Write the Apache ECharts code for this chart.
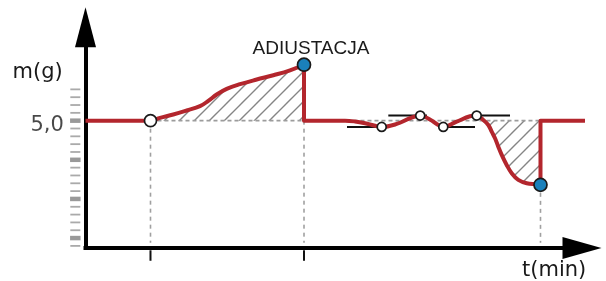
<!DOCTYPE html>
<html><head><meta charset="utf-8">
<script src="https://cdn.jsdelivr.net/npm/echarts@6/dist/echarts.min.js"></script>
<style>html,body{margin:0;padding:0;background:#fff}#c{width:606px;height:281px}</style>
</head><body><div id="c"></div>
<script>
// ---- data (t in arbitrary time units 0..100, m in grams) ----
const baseLevel = 5.0;
const yAxisName = 'm(g)';
const xAxisName = 't(min)';
const markerLabel = 'ADIUSTACJA';

// rising drift from the start marker up to the adjustment point
const riseT = [13.09, 15.0, 17.68, 20.38, 23.06, 24.73, 26.42, 28.44, 31.12, 34.48, 37.83, 41.19, 44.01];
const riseV = [5.0, 5.036, 5.079, 5.130, 5.185, 5.253, 5.334, 5.406, 5.466, 5.526, 5.581, 5.644, 5.715];

// oscillation after adjustment
const midT = [44.01, 52.27, 54.28, 56.29, 58.11, 59.66, 62.68, 65.36, 67.42, 69.44, 70.73, 72.06, 74.76, 77.44, 78.79];
const midV = [5.0, 5.0, 4.99, 4.968, 4.939, 4.92, 4.958, 5.031, 5.065, 5.013, 4.958, 4.92, 4.987, 5.056, 5.065];

// falling drift to the second adjustment point
const dipT = [80.12, 81.13, 81.81, 82.48, 83.14, 83.83, 84.83, 85.84, 87.17, 88.86, 90.88, 91.64];
const dipV = [5.009, 4.945, 4.860, 4.775, 4.668, 4.562, 4.434, 4.329, 4.243, 4.201, 4.188, 4.18];

const startT = 0, endT = 100.6;

// markers
const startMarkT = [13.09], startMarkV = [5.0];
const checkT = [59.66, 67.42, 72.06, 78.79];
const checkV = [4.92, 5.065, 4.92, 5.065];
const adjustT = [44.01, 91.64];
const adjustV = [5.715, 4.18];

// short horizontal check bars
const barFromT = [52.67, 60.99, 72.0, 78.79];
const barToT   = [60.66, 68.78, 78.45, 85.5];
const barV     = [4.92, 5.065, 4.92, 5.065];

// dotted drop lines to the time axis
const dropT = [13.09, 44.01, 91.64];
const dropTopV = [5.0, 5.0, 4.18];
const dropBottomV = 3.44;

// time-axis tick marks
const xTickT = [13.09, 44.01];

// mass-axis scale ticks
const yTickThin = [5.4, 5.3, 5.2, 5.1, 4.9, 4.8, 4.7, 4.6, 4.4, 4.3, 4.2, 4.1, 3.9, 3.8, 3.7, 3.6, 3.4];
const yTickThick = [5.0, 4.5, 4.0, 3.5];
const yLabelValues = [5.0];
const yLabelTexts = ['5,0'];

// ---- chart ----
const yMin = 3.3731, yMax = 6.1931;
const tickColT = -2.05;
const xTickV = 3.277;
const textColor = '#1a1a1a';

function zip(a, b) { return a.map((v, i) => [v, b[i]]); }

function hatchPattern() {
  const s = 15;
  const c = document.createElement('canvas');
  c.width = s; c.height = s;
  const g = c.getContext('2d');
  g.strokeStyle = '#858585';
  g.lineWidth = 1.4;
  g.beginPath();
  for (let k = -1; k <= 1; k++) {
    g.moveTo(k * s - 2, s + 2);
    g.lineTo(k * s + s + 2, -2);
  }
  g.stroke();
  return { image: c, repeat: 'repeat' };
}
const pattern = hatchPattern();

const redData = [[startT, baseLevel]]
  .concat(zip(riseT, riseV))
  .concat(zip(midT, midV))
  .concat(zip(dipT, dipV))
  .concat([[adjustT[1], baseLevel], [endT, baseLevel]]);

const series = [];

series.push({
  type: 'line', z: 1, silent: true, clip: false, smooth: 0.4, symbol: 'none',
  data: zip(riseT, riseV).concat([[riseT[riseT.length - 1], baseLevel]]),
  lineStyle: { width: 0, opacity: 0 },
  areaStyle: { color: pattern, origin: baseLevel, opacity: 1 }
});
series.push({
  type: 'line', z: 1, silent: true, clip: false, smooth: 0.4, symbol: 'none',
  data: [[dipT[0], baseLevel]].concat(zip(dipT.slice(1), dipV.slice(1))).concat([[dipT[dipT.length - 1], baseLevel]]),
  lineStyle: { width: 0, opacity: 0 },
  areaStyle: { color: pattern, origin: baseLevel, opacity: 1 }
});
// dashed reference level
series.push({
  type: 'line', z: 2, silent: true, clip: false, symbol: 'none',
  data: [[startMarkT[0], baseLevel], [adjustT[1], baseLevel]],
  lineStyle: { color: '#9c9c9c', width: 1.6, type: [4, 3] }
});
// dotted drops
dropT.forEach((t, i) => series.push({
  type: 'line', z: 2, silent: true, clip: false, symbol: 'none',
  data: [[t, dropTopV[i]], [t, dropBottomV]],
  lineStyle: { color: '#a0a0a0', width: 1.6, type: [4, 4] }
}));
// check bars
barV.forEach((v, i) => series.push({
  type: 'line', z: 3, silent: true, clip: false, symbol: 'none',
  data: [[barFromT[i], v], [barToT[i], v]],
  lineStyle: { color: '#111', width: 2 }
}));
// main red curve
series.push({
  type: 'line', z: 4, silent: true, clip: false, smooth: 0.4, symbol: 'none',
  data: redData,
  lineStyle: { color: '#b3262d', width: 4, join: 'round' }
});
// markers
series.push({
  type: 'scatter', z: 5, silent: true, clip: false, symbol: 'circle', symbolSize: 12,
  data: zip(startMarkT, startMarkV),
  itemStyle: { color: '#fff', borderColor: '#1a1a1a', borderWidth: 1.7, opacity: 1 }
});
series.push({
  type: 'scatter', z: 5, silent: true, clip: false, symbol: 'circle', symbolSize: 9,
  data: zip(checkT, checkV),
  itemStyle: { color: '#fff', borderColor: '#1a1a1a', borderWidth: 1.7, opacity: 1 }
});
series.push({
  type: 'scatter', z: 5, silent: true, clip: false, symbol: 'circle', symbolSize: 13,
  data: zip(adjustT, adjustV).map((p, i) => i === 0 ? {
    value: p,
    label: {
      show: true, formatter: markerLabel, position: 'inside', offset: [7, -16.1],
      color: textColor, fontFamily: 'Liberation Sans', fontSize: 19, textBorderWidth: 0
    }
  } : p),
  itemStyle: { color: '#1a80bb', borderColor: '#1a1a1a', borderWidth: 1.7, opacity: 1 }
});
// axis scale ticks
series.push({
  type: 'scatter', z: 3, silent: true, clip: false, symbol: 'rect', symbolSize: [10, 1.8],
  data: yTickThin.map(v => [tickColT, v]),
  itemStyle: { color: '#aaaaaa', opacity: 1 }
});
series.push({
  type: 'scatter', z: 3, silent: true, clip: false, symbol: 'rect', symbolSize: [10.5, 4.5],
  data: yTickThick.map(v => [tickColT, v]),
  itemStyle: { color: '#999999', opacity: 1 }
});
series.push({
  type: 'scatter', z: 3, silent: true, clip: false, symbol: 'rect', symbolSize: [2, 10.5],
  data: xTickT.map(t => [t, xTickV]),
  itemStyle: { color: '#111', opacity: 1 }
});
// y labels
series.push({
  type: 'scatter', z: 3, silent: true, clip: false, symbolSize: 0,
  data: yLabelValues.map((v, i) => ({
    value: [tickColT, v],
    label: {
      show: true, formatter: yLabelTexts[i], position: 'inside', align: 'right',
      offset: [-11.5, 5], color: textColor, fontFamily: 'DejaVu Sans', fontSize: 21, textBorderWidth: 0
    }
  }))
});

const axisLineBase = { color: '#000', width: 4, cap: 'square' };

const option = {
  animation: false,
  title: [
    { text: yAxisName, left: 12.5, top: 62, padding: 0,
      textStyle: { fontFamily: 'DejaVu Sans', fontSize: 21, fontWeight: 'normal', color: textColor } },
    { text: xAxisName, left: 522, top: 260, padding: 0,
      textStyle: { fontFamily: 'DejaVu Sans', fontSize: 21, fontWeight: 'normal', color: textColor } }
  ],
  grid: { left: 85.5, right: 24, top: 27.3, bottom: 33 },
  xAxis: {
    type: 'value', min: 0, max: 100,
    axisLine: { show: true, onZero: false, symbol: ['none', 'triangle'], symbolSize: [22, 39], lineStyle: axisLineBase },
    axisTick: { show: false }, axisLabel: { show: false }, splitLine: { show: false }
  },
  yAxis: {
    type: 'value', min: yMin, max: yMax,
    axisLine: { show: true, onZero: false, symbol: ['none', 'triangle'], symbolSize: [21, 40], lineStyle: axisLineBase },
    axisTick: { show: false }, axisLabel: { show: false }, splitLine: { show: false }
  },
  series: series
};

const chart = echarts.init(document.getElementById('c'), null, { renderer: 'canvas' });
chart.setOption(option);
</script>
</body></html>
